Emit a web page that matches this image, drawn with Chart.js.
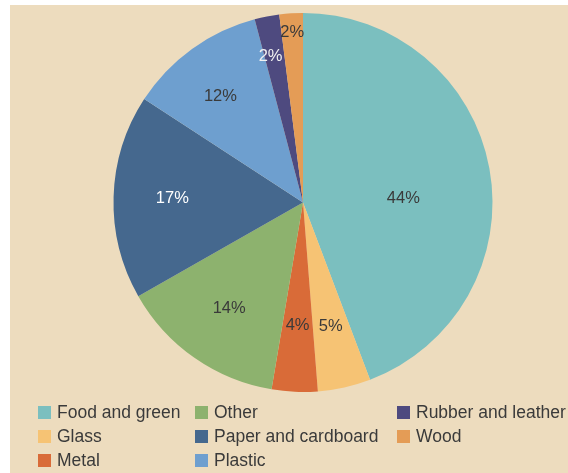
<!DOCTYPE html>
<html><head><meta charset="utf-8">
<script src="https://cdn.jsdelivr.net/npm/chart.js@4"></script>
<style>
html,body{margin:0;padding:0;background:#fff;}
#wrap{position:relative;width:568px;height:473px;overflow:hidden;}
#bg{position:absolute;left:10px;top:5px;width:558px;height:468px;background:#EDDCBE;}
#c{position:absolute;left:0;top:0;}
.leg{position:absolute;font-family:"Liberation Sans",Arial,sans-serif;font-size:17.5px;color:#3a3a3a;white-space:nowrap;line-height:20px;}
.leg .box{display:inline-block;width:13px;height:13px;vertical-align:-1px;margin-right:6px;}
</style></head>
<body>
<div id="wrap"><div id="bg"></div><canvas id="c" width="568" height="473"></canvas><div id="legend"></div></div>
<script>
const categories = ["Food and green","Glass","Metal","Other","Paper and cardboard","Plastic","Rubber and leather","Wood"];
const values = [44.2,4.5,3.9,14.1,17.4,11.7,2.1,2.0];
const sliceLabels = ["44%","5%","4%","14%","17%","12%","2%","2%"];
const colors = ["#7BBFBF","#F6C374","#D96B38","#8DB26E","#45688E","#6E9FCF","#4E4A7F","#E49C56"];
const labelColors = ["#3a3a3a","#3a3a3a","#3a3a3a","#3a3a3a","#ffffff","#3a3a3a","#f2f2f2","#3a3a3a"];
const labelRadius = [0.53,0.67,0.65,0.68,0.69,0.71,0.79,0.90];
const labelAngleShift = [8,0,0,0,0,-2,-1.5,0];

const labelPlugin = {
  id:'sliceLabels',
  afterDatasetsDraw(chart){
    const ctx = chart.ctx;
    const meta = chart.getDatasetMeta(0);
    ctx.save();
    ctx.font = '16.5px "Liberation Sans", Arial, sans-serif';
    ctx.textAlign = 'center';
    ctx.textBaseline = 'middle';
    meta.data.forEach((arc,i)=>{
      const p = arc.getProps(['x','y','startAngle','endAngle','outerRadius'],true);
      const mid = (p.startAngle+p.endAngle)/2 + labelAngleShift[i]*Math.PI/180;
      const r = p.outerRadius*labelRadius[i];
      ctx.fillStyle = labelColors[i];
      ctx.fillText(sliceLabels[i], p.x+Math.cos(mid)*r, p.y+Math.sin(mid)*r);
    });
    ctx.restore();
  }
};

new Chart(document.getElementById('c'),{
  type:'pie',
  data:{labels:categories,datasets:[{data:values,backgroundColor:colors,borderWidth:0}]},
  options:{
    responsive:false,animation:false,
    layout:{padding:{left:113.5,right:75.5,top:13,bottom:81}},
    plugins:{legend:{display:false},tooltip:{enabled:false}}
  },
  plugins:[labelPlugin]
});

const colLeft=[38,195,397];
const rowTop=[402,426,450];
const legend=document.getElementById('legend');
categories.forEach((name,i)=>{
  const d=document.createElement('div');
  d.className='leg';
  d.style.left=colLeft[Math.floor(i/3)]+'px';
  d.style.top=rowTop[i%3]+'px';
  d.innerHTML='<span class="box" style="background:'+colors[i]+'"></span>'+name;
  legend.appendChild(d);
});
</script>
</body></html>
